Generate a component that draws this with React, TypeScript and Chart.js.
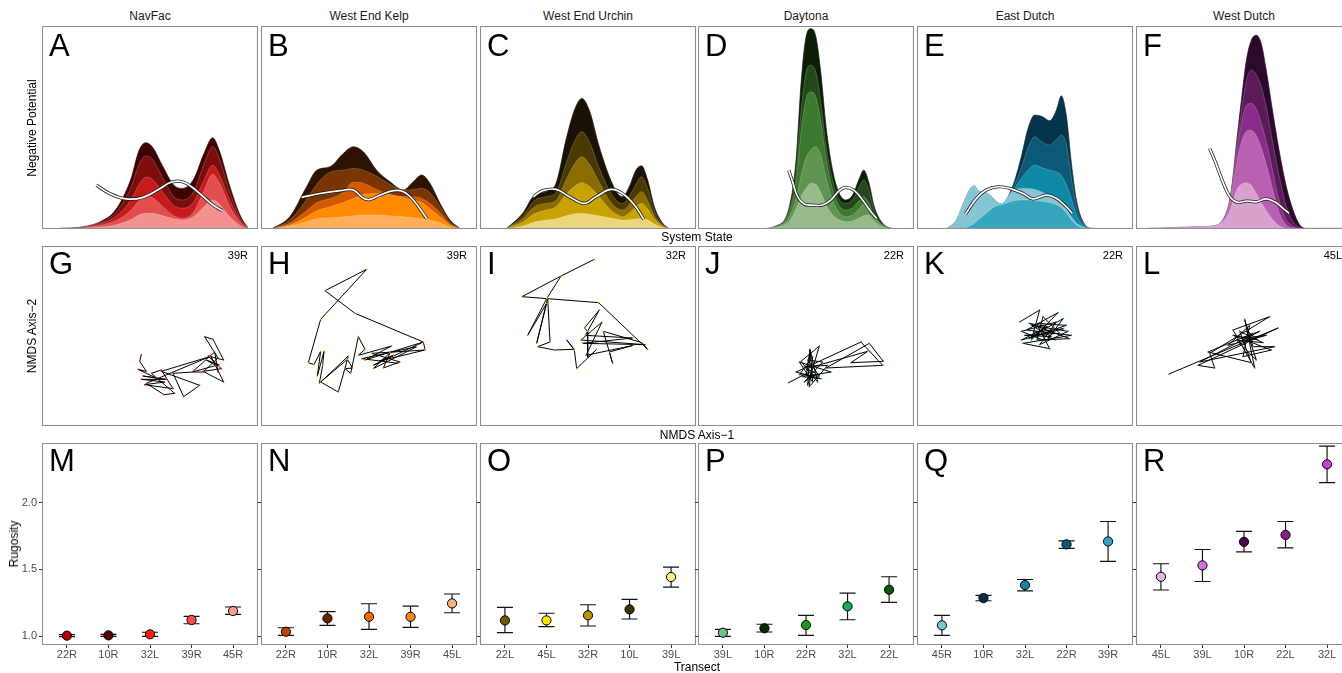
import React, { useEffect, useRef } from 'react';
import { Chart, registerables } from 'chart.js';

Chart.register(...registerables);
const FONT = '"Liberation Sans", Arial, Helvetica, sans-serif';
Chart.defaults.font.family = FONT;

// ---------------- labels ----------------
const siteNames = ['NavFac', 'West End Kelp', 'West End Urchin', 'Daytona', 'East Dutch', 'West Dutch'];
const topLetters = ['A', 'B', 'C', 'D', 'E', 'F'];
const midLetters = ['G', 'H', 'I', 'J', 'K', 'L'];
const botLetters = ['M', 'N', 'O', 'P', 'Q', 'R'];
const nmdsTransectLabels = ['39R', '39R', '32R', '22R', '22R', '45L'];
const rugosityTicks = [1.0, 1.5, 2.0];

// ---------------- top row: stacked densities (outer -> inner) + potential ----------------
const navfacDensX = [8, 19, 27, 34, 41, 45, 48, 51, 56, 61, 65, 70, 75, 79, 82, 87, 92, 95.5];
const navfacDens1 = [0.3, 1.1, 3.6, 9.3, 24.1, 38.9, 42.5, 40.5, 30.7, 21.6, 20, 24.1, 37.2, 44.9, 38.9, 20.8, 6.1, 0.3];
const navfacDens2 = [0.3, 1.0, 3.2, 8.0, 20, 32, 36, 34.5, 25, 16, 14.3, 18, 32, 40.5, 35, 18, 5, 0.3];
const navfacDens3 = [0.2, 0.8, 2.5, 6, 14, 22, 25.5, 24.5, 18, 11.5, 10.2, 13, 24, 31.5, 27, 14, 4, 0.2];
const navfacDens4 = [0.1, 0.5, 1.8, 4, 9, 14, 16, 15.5, 11, 6.5, 5.2, 8, 19, 27, 23, 11, 3, 0.1];
const navfacDens5 = [0.1, 0.3, 1, 2, 4.5, 7, 7.7, 7.7, 6.5, 5, 4.4, 6, 11, 14.3, 12.5, 6, 1.5, 0.1];
const navfacPotX = [25.2, 31.3, 39, 46.8, 54.3, 59.1, 63, 66.8, 73, 79.2, 83.5];
const navfacPotY = [21.6, 17.5, 14.8, 15.6, 19.7, 22.8, 23.6, 22.5, 17.5, 11.8, 9.0];
const navfacFill = ['#3f0303', '#7d0e0e', '#c51b1b', '#e24e4e', '#f39191'];

const kelpDensX = [4.9, 13.4, 21.1, 25.8, 32, 38.1, 42.7, 47.4, 53.5, 59.7, 65.9, 70.5, 74.4, 78.2, 82.9, 87.5, 92.1];
const kelpDens1 = [0, 6.1, 20.8, 29, 30.7, 37.2, 40.5, 38, 29, 23.3, 19.2, 23.3, 26.6, 22.5, 12.6, 4.4, 0.3];
const kelpDens2 = [0, 4.5, 14.5, 22, 28, 29, 29.8, 29, 26, 22, 19, 19.5, 20, 18, 11, 3.5, 0.2];
const kelpDens3 = [0, 3, 9, 13, 15, 18, 23, 22.5, 19.5, 17, 16, 15.9, 15, 12.6, 8, 2.5, 0.1];
const kelpDens4 = [0, 2, 6, 9, 11, 13, 15, 17, 17.5, 17, 15.5, 14.3, 13, 10, 6, 2, 0.1];
const kelpDens5 = [0, 1.5, 3.5, 5, 5.5, 6, 6.5, 6.9, 6.9, 6.5, 6, 5.5, 5, 4.4, 3, 1, 0];
const kelpPotX = [18.8, 27.3, 36.6, 42.7, 47.4, 50.5, 55.1, 61.3, 65.9, 70.5, 76.7];
const kelpPotY = [15.6, 17.5, 18.9, 19.2, 15.1, 14.6, 16.7, 18.9, 18.4, 14.3, 5.2];
const kelpFill = ['#2e1302', '#7a3500', '#d35800', '#ff8a00', '#ffae5c'];

const urchinDensX = [12, 19.8, 25.2, 30.6, 35.2, 39.8, 43.7, 47.2, 50.6, 55.2, 59.9, 63.7, 66, 69.1, 72.2, 74.8, 77.6, 80.7, 84.6, 87.7];
const urchinDens1 = [0, 7.7, 16.7, 18.4, 22.5, 43.8, 58.5, 64.3, 58.5, 40.5, 25.7, 17.5, 15.9, 20.8, 29, 31.1, 24.1, 11, 2.8, 0];
const urchinDens2 = [0, 6.5, 14, 15.9, 18, 32, 43, 47.9, 43, 30, 19, 13.5, 12.6, 16, 22, 25.7, 20, 9, 2.3, 0];
const urchinDens3 = [0, 5, 11, 12.6, 14, 24, 32, 35.6, 32, 23, 14, 10, 9.3, 12, 16, 18.4, 14, 6.5, 1.8, 0];
const urchinDens4 = [0, 3.5, 7.5, 9.3, 11, 17, 21, 22.8, 21, 16, 10, 7, 6, 8, 11, 12.6, 10, 5, 1.3, 0];
const urchinDens5 = [0, 1.5, 3.5, 4.4, 5, 6.5, 7.5, 7.7, 7.3, 6.5, 5.5, 4.8, 4.4, 4.6, 5, 5.2, 4.5, 2.5, 0.7, 0];
const urchinPotX = [24.7, 29, 35.2, 41.4, 48.3, 53.7, 60.6, 66, 71.5, 75.8];
const urchinPotY = [15.9, 18.9, 19.5, 15.9, 12.6, 15.9, 19.5, 17.5, 11.8, 4.8];
const urchinFill = ['#1a1204', '#4a3a00', '#8a6c00', '#c9a100', '#ebd67c'];

const daytonaDensX = [28.4, 36.1, 42.3, 45.4, 47.7, 50, 52.3, 54.6, 56.9, 59.3, 62.3, 65.4, 68.5, 71.6, 74.7, 76.7, 79, 81.6, 85.5, 90.1];
const daytonaDens1 = [0, 1.5, 11, 33.9, 71.6, 94.6, 98.7, 94.6, 76.6, 50.3, 29, 17.5, 14.3, 16.7, 24.9, 29, 23.3, 11, 2.8, 0];
const daytonaDens2 = [0, 1.3, 9.5, 28, 58, 77, 80.7, 77, 62, 41, 24, 14.5, 12.6, 14.5, 21, 24.1, 19.5, 9, 2.3, 0];
const daytonaDens3 = [0, 1.1, 8, 23, 48, 64, 67.5, 65, 53, 35, 19.5, 11.5, 9.3, 10.5, 14, 15.9, 13, 6.5, 1.8, 0];
const daytonaDens4 = [0, 0.9, 6, 15, 26, 35, 39, 40.5, 36, 25, 14, 8, 6, 7, 10, 12.3, 11, 6, 1.5, 0];
const daytonaDens5 = [0, 0.7, 4, 10, 16, 20, 22.5, 22, 18, 12, 7, 4.5, 3.6, 4, 5.5, 6.5, 6.9, 4, 1, 0];
const daytonaPotX = [42, 43.8, 46.1, 49.2, 53.1, 57.7, 61.6, 65.4, 68.5, 72.4, 76.2, 80.1, 82.7];
const daytonaPotY = [29, 23.3, 15.9, 12.3, 11.8, 11.8, 14.3, 18.9, 20.5, 18.9, 14.3, 8.5, 5.2];
const daytonaFill = ['#0c1f06', '#23491a', '#3d7a2f', '#5f9352', '#96ba8a'];

const eastDensX = [13.6, 18.2, 22.1, 24.4, 26.2, 29, 32.9, 36, 39, 42.1, 45.2, 48.3, 51.4, 54.5, 58.3, 61.4, 64.5, 66.8, 69.1, 71.5, 73.8, 76.9, 81.5, 95];
const eastDens1 = [0, 4.4, 14.3, 19.2, 21.3, 18.4, 17.5, 14.3, 12.3, 15.9, 23.8, 35.6, 49.5, 56.1, 55.2, 53.3, 58.5, 65.6, 56.1, 32.3, 14.3, 3.6, 0.3, 0.2];
const eastDens2 = [0, 4.4, 14.3, 19.2, 21.3, 18.4, 17.5, 14.3, 12.3, 15.9, 22, 30, 40, 45.4, 42.5, 41.3, 44, 46.2, 42, 25, 11, 3, 0.2, 0.1];
const eastDens3 = [0, 4.4, 14.3, 19.2, 21.3, 18.4, 17.5, 14.3, 12.3, 15.9, 20, 25, 29, 31.5, 30, 29, 28.2, 26.5, 22, 15, 7, 2, 0.1, 0.1];
const eastDens4 = [0, 4.4, 14.3, 19.2, 21.3, 18.4, 17.5, 14.3, 12.3, 15.9, 19.5, 20, 20, 19.5, 18, 16.5, 15, 13, 10, 6, 3, 1, 0.1, 0];
const eastDens5 = [0, 0, 0.5, 1.5, 2.5, 5, 8.5, 11, 12, 13, 14, 14.3, 14.3, 14, 13.5, 13, 12, 10.5, 8, 4.5, 2, 0.6, 0, 0];
const eastPotX = [22.5, 27.5, 32.1, 37.5, 42.9, 49.1, 53.7, 59.9, 64.5, 69.1, 71.9];
const eastPotY = [7.4, 15.1, 19.2, 20.8, 20, 17.5, 14.8, 16.7, 15.1, 11, 7.7];
const eastFill = ['#06344a', '#0b5877', '#0e8aa6', '#86c5d5', '#36a6bd'];

const westDensX = [5, 20, 30, 37.5, 41, 43.4, 44.9, 46.5, 48.8, 51.1, 53.4, 55.7, 58, 60.3, 63.4, 66.5, 69.6, 72.7, 75.8, 78.9, 100];
const westDens1 = [0.3, 0.8, 1.2, 1.9, 6.1, 14.3, 25.7, 42.1, 63.4, 83.1, 93, 95.4, 91.3, 78.2, 56.9, 37.2, 20.8, 9.3, 2, 0.3, 0.3];
const westDens2 = [0.3, 0.8, 1.2, 1.9, 6, 14, 25, 40, 58, 73, 78.2, 76, 70, 60, 42, 25, 11, 3.5, 0.8, 0.2, 0.2];
const westDens3 = [0.3, 0.8, 1.2, 1.9, 5.8, 13.5, 23.5, 37, 52, 61, 61.8, 59, 52, 43, 28, 13, 4.5, 1.3, 0.3, 0.1, 0.1];
const westDens4 = [0.3, 0.8, 1.2, 1.9, 5.5, 12.5, 21, 32, 43, 48, 48.7, 46, 40, 32, 19, 7.5, 2, 0.5, 0.1, 0, 0];
const westDens5 = [0.2, 0.6, 1, 1.7, 4.5, 9, 14, 19, 22, 22.8, 21.5, 17.5, 13, 9, 4.5, 1.5, 0.3, 0, 0, 0, 0];
const westPotX = [34.1, 36.4, 38.7, 41.8, 44.1, 47.2, 51.1, 55.7, 60.3, 64.2, 68.1, 70.8];
const westPotY = [39.7, 33.9, 27.4, 19.2, 15.1, 13.1, 13.8, 13.4, 14.8, 13.4, 10.2, 7.7];
const westFill = ['#2c0a2c', '#5d1a5b', '#8b2b89', '#b961b1', '#d8a2cf'];

// ---------------- middle row: NMDS trajectories ----------------
const navfacNmdsX = [-0.13, -0.155, -0.055, -0.18, 0.095, -0.105, 0.245, -0.13, 0.22, -0.08, 0.345, 0.17, 0.02, 0.37, 0.21, -0.055, 0.895, 0.17, 0.745, 0.505, 0.345, 0.645, 0.795, 1.02, 0.82, 0.945, 1.105, 0.87, 1.07, 0.795, 1.105, 0.905, 0.985, 0.845, 1.035, 0.635, 0.97, 1.02];
const navfacNmdsY = [-0.28, -0.38, -0.53, -0.5, -0.63, -0.6, -0.65, -0.65, -0.69, -0.73, -0.79, -0.51, -0.56, -0.86, -0.88, -0.71, -0.31, -0.53, -0.74, -0.91, -0.56, -0.54, -0.54, -0.33, -0.01, -0.05, -0.36, -0.3, -0.49, -0.53, -0.69, -0.29, -0.44, -0.36, -0.43, -0.54, -0.24, -0.54];
const kelpNmdsX = [0.84, 0.815, -0.21, -0.66, -0.035, -0.725, -0.91, -0.825, -0.725, -0.775, -0.675, -0.695, -0.745, -0.31, -0.46, -0.725, -0.325, -0.245, -0.36, -0.275, -0.16, -0.06, -0.16, 0.34, -0.06, 0.815, 0.065, 0.365, 0.14, 0.84, 0.04, 0.465, 0.215, 0.315, 0.065, 0.715, -0.11, 0.44];
const kelpNmdsY = [-0.2, -0.09, 0.34, 0.68, 1.0, 0.25, -0.4, -0.43, -0.23, -0.6, -0.23, -0.44, -0.71, -0.3, -0.84, -0.69, -0.35, -0.48, -0.49, -0.56, -0.01, -0.2, -0.29, -0.15, -0.36, -0.09, -0.44, -0.29, -0.38, -0.21, -0.26, -0.39, -0.48, -0.25, -0.49, -0.16, -0.34, -0.41];
const urchinNmdsX = [0.095, -0.405, -0.99, 0.16, 0.895, 0.81, 0.23, 0.37, 0.32, 0.68, -0.03, 0.21, -0.105, 0.86, -0.08, 0.67, -0.04, 0.17, -0.055, -0.005, -0.005, 0.13, -0.17, -0.205, -0.32, -0.205, -0.505, -0.755, -0.57, -0.605, -0.77, -0.62, -0.905, -0.62, -0.405];
const urchinNmdsY = [1.15, 0.9, 0.59, 0.5, -0.2, -0.1, 0.07, -0.41, -0.24, -0.14, -0.29, 0.21, -0.06, -0.13, -0.11, -0.03, 0.01, 0.39, 0.12, 0.07, -0.33, -0.2, -0.49, -0.21, -0.06, -0.2, -0.21, -0.16, -0.09, 0.57, -0.11, 0.49, 0.01, 0.56, 0.9];
const daytonaNmdsX = [-0.26, 0.05, -0.075, 0.2, 0.025, 0.06, 0.1, -0.1, 0.375, -0.05, 0.225, -0.15, 0.825, 1.15, 0.3, 0.95, 1.16, 0.675, 0.925, 0, 0.15, -0.025, 0.25, 0.025, 0.2, -0.1, 0.1, 0.05, 0.325, -0.025, 0.175, 0.06, 0];
const daytonaNmdsY = [-0.7, -0.54, -0.38, -0.15, -0.74, -0.2, -0.69, -0.39, -0.54, -0.61, -0.64, -0.54, -0.09, -0.44, -0.48, -0.11, -0.38, -0.4, -0.23, -0.49, -0.56, -0.69, -0.39, -0.36, -0.6, -0.58, -0.31, -0.76, -0.44, -0.46, -0.69, -0.2, -0.61];
const eastNmdsX = [-0.08, 0.22, 0.095, 0.495, 0.02, 0.695, -0.03, 0.37, 0.17, 0.62, 0.045, 0.57, 0.32, -0.055, 0.47, 0.22, 0.645, 0.095, 0.395, -0.005, 0.52, 0.27, 0.18, 0.67, 0.06, 0.345, -0.055, 0.58, 0.145, 0.46];
const eastNmdsY = [0.21, 0.39, -0.06, 0.35, 0.09, 0.01, -0.11, -0.19, 0.19, 0.16, -0.04, 0.26, -0.08, 0.07, 0.21, -0.13, 0.07, 0.16, -0.01, 0.01, 0.04, 0.29, -0.06, -0.04, 0.19, 0.14, -0.06, 0.11, 0.06, -0.06];
const westNmdsX = [-1.125, 0.51, -0.69, -0.44, -0.515, 0.385, -0.165, 0.16, 0.01, 0.135, 0.46, -0.665, 0.235, -0.065, 0.335, -0.24, 0.085, -0.015, 0.41, -0.165, 0.21, 0.035, 0.185, -0.115, 0.285, -0.065, 0.11, -0.54, 0.135, -0.025];
const westNmdsY = [-0.57, 0.12, -0.44, -0.48, -0.26, 0.29, 0.09, -0.48, 0.25, -0.16, -0.16, -0.39, 0.07, -0.04, 0.01, -0.14, 0.16, -0.31, -0.21, 0.01, -0.06, 0.09, -0.36, -0.06, -0.1, 0.07, -0.4, -0.24, 0.04, -0.14];
const nmdsPointColors = ['#e0301e', '#ff8c00', '#c9a100', '#2e8b3a', '#0e8aa6', '#a040a0'];

// ---------------- bottom row: rugosity ----------------
const navfacTransects = ['22R', '10R', '32L', '39R', '45R'];
const navfacRug = [1.005, 1.007, 1.015, 1.122, 1.189];
const navfacRugLo = [0.998, 1.0, 1.0, 1.094, 1.164];
const navfacRugHi = [1.012, 1.014, 1.03, 1.149, 1.219];
const navfacRugColors = ['#b30000', '#5c0000', '#ff1a1a', '#ff4d4d', '#ff9999'];

const kelpTransects = ['22R', '10R', '32L', '39R', '45L'];
const kelpRug = [1.034, 1.134, 1.146, 1.146, 1.246];
const kelpRugLo = [1.007, 1.082, 1.052, 1.067, 1.176];
const kelpRugHi = [1.064, 1.184, 1.243, 1.226, 1.316];
const kelpRugColors = ['#c24400', '#6b2400', '#ff6600', '#ff8519', '#ffb27f'];

const urchinTransects = ['22L', '45L', '32R', '10L', '39L'];
const urchinRug = [1.119, 1.119, 1.157, 1.201, 1.443];
const urchinRugLo = [1.027, 1.072, 1.077, 1.129, 1.368];
const urchinRugHi = [1.216, 1.172, 1.236, 1.276, 1.517];
const urchinRugColors = ['#6e5c00', '#ffe600', '#b89500', '#3d3200', '#fff27a'];

const daytonaTransects = ['39L', '10R', '22R', '32L', '22L'];
const daytonaRug = [1.027, 1.06, 1.084, 1.224, 1.348];
const daytonaRugLo = [1.0, 1.032, 1.007, 1.124, 1.254];
const daytonaRugHi = [1.052, 1.09, 1.157, 1.323, 1.445];
const daytonaRugColors = ['#6fc48a', '#0b2a0b', '#1a9a1a', '#14a85a', '#0b5510'];

const eastTransects = ['45R', '10R', '32L', '22R', '39R'];
const eastRug = [1.082, 1.286, 1.383, 1.687, 1.709];
const eastRugLo = [1.007, 1.266, 1.34, 1.657, 1.56];
const eastRugHi = [1.157, 1.306, 1.425, 1.713, 1.858];
const eastRugColors = ['#80c4d4', '#082f45', '#0b86a4', '#0b5877', '#38a6be'];

const westTransects = ['45L', '39L', '10R', '22L', '32L'];
const westRug = [1.445, 1.53, 1.706, 1.758, 2.286];
const westRugLo = [1.346, 1.41, 1.631, 1.661, 2.149];
const westRugHi = [1.542, 1.649, 1.784, 1.858, 2.422];
const westRugColors = ['#e6b3e6', '#d175d9', '#4b0a4b', '#8a1e8a', '#c443d4'];

// ---------------- tables built from the arrays ----------------
const topSites = [
  { x: navfacDensX, layers: [navfacDens1, navfacDens2, navfacDens3, navfacDens4, navfacDens5], fill: navfacFill, potX: navfacPotX, potY: navfacPotY },
  { x: kelpDensX, layers: [kelpDens1, kelpDens2, kelpDens3, kelpDens4, kelpDens5], fill: kelpFill, potX: kelpPotX, potY: kelpPotY },
  { x: urchinDensX, layers: [urchinDens1, urchinDens2, urchinDens3, urchinDens4, urchinDens5], fill: urchinFill, potX: urchinPotX, potY: urchinPotY },
  { x: daytonaDensX, layers: [daytonaDens1, daytonaDens2, daytonaDens3, daytonaDens4, daytonaDens5], fill: daytonaFill, potX: daytonaPotX, potY: daytonaPotY },
  { x: eastDensX, layers: [eastDens1, eastDens2, eastDens3, eastDens4, eastDens5], fill: eastFill, potX: eastPotX, potY: eastPotY },
  { x: westDensX, layers: [westDens1, westDens2, westDens3, westDens4, westDens5], fill: westFill, potX: westPotX, potY: westPotY },
];
const midSites = [
  { x: navfacNmdsX, y: navfacNmdsY },
  { x: kelpNmdsX, y: kelpNmdsY },
  { x: urchinNmdsX, y: urchinNmdsY },
  { x: daytonaNmdsX, y: daytonaNmdsY },
  { x: eastNmdsX, y: eastNmdsY },
  { x: westNmdsX, y: westNmdsY },
];
const botSites = [
  { cats: navfacTransects, v: navfacRug, lo: navfacRugLo, hi: navfacRugHi, c: navfacRugColors },
  { cats: kelpTransects, v: kelpRug, lo: kelpRugLo, hi: kelpRugHi, c: kelpRugColors },
  { cats: urchinTransects, v: urchinRug, lo: urchinRugLo, hi: urchinRugHi, c: urchinRugColors },
  { cats: daytonaTransects, v: daytonaRug, lo: daytonaRugLo, hi: daytonaRugHi, c: daytonaRugColors },
  { cats: eastTransects, v: eastRug, lo: eastRugLo, hi: eastRugHi, c: eastRugColors },
  { cats: westTransects, v: westRug, lo: westRugLo, hi: westRugHi, c: westRugColors },
];

// ---------------- layout (styles) ----------------
const PANEL_LEFT = [42, 261, 480, 698, 917, 1136];
const PANEL_W = 216;
const TOP_Y = 26, TOP_H = 203;
const MID_Y = 246, MID_H = 180;
const BOT_Y = 443, BOT_H = 202;
const Y_AXIS_W = 40, X_AXIS_H = 20;

const boxPlugin = {
  id: 'panelBox',
  afterDraw(chart: any) {
    const { ctx, chartArea: a } = chart;
    ctx.save();
    ctx.strokeStyle = '#8e8e8e';
    ctx.lineWidth = 1.1;
    ctx.strokeRect(a.left + 0.5, a.top + 0.5, a.right - a.left - 1, a.bottom - a.top - 1);
    ctx.restore();
  },
};

const errorBarPlugin = {
  id: 'errorBars',
  beforeDatasetsDraw(chart: any) {
    const { ctx } = chart;
    const xs = chart.scales.x, ys = chart.scales.y;
    chart.data.datasets.forEach((ds: any) => {
      if (!ds.errLo) return;
      ds.data.forEach((p: any, i: number) => {
        const px = xs.getPixelForValue(p.x);
        const lo = ys.getPixelForValue(ds.errLo[i]);
        const hi = ys.getPixelForValue(ds.errHi[i]);
        ctx.save();
        ctx.strokeStyle = '#111';
        ctx.lineWidth = 1.15;
        ctx.beginPath();
        ctx.moveTo(px, lo); ctx.lineTo(px, hi);
        ctx.moveTo(px - 8, lo); ctx.lineTo(px + 8, lo);
        ctx.moveTo(px - 8, hi); ctx.lineTo(px + 8, hi);
        ctx.stroke();
        ctx.restore();
      });
    });
  },
};

const baseOptions = {
  animation: false,
  responsive: true,
  maintainAspectRatio: false,
  events: [],
  layout: { padding: 0, autoPadding: false },
  plugins: { legend: { display: false }, tooltip: { enabled: false }, title: { display: false } },
};

function topConfig(i: number): any {
  const s = topSites[i];
  const pot = s.potX.map((x, k) => ({ x, y: s.potY[k] }));
  const layers = s.layers.map((ys, k) => ({
    data: s.x.map((x, j) => ({ x, y: ys[j] })),
    fill: 'origin',
    backgroundColor: s.fill[k],
    borderColor: k === 0 ? s.fill[0] : 'rgba(255,255,255,0.3)',
    borderWidth: 0.7,
    pointRadius: 0,
    cubicInterpolationMode: 'monotone',
  }));
  return {
    type: 'line',
    data: {
      datasets: [
        { data: pot, borderColor: '#ffffff', borderWidth: 1.7, tension: 0.4, pointRadius: 0, fill: false },
        { data: pot, borderColor: '#1a1a1a', borderWidth: 3.2, tension: 0.4, pointRadius: 0, fill: false },
        ...layers.reverse(),
      ],
    },
    options: {
      ...baseOptions,
      scales: {
        x: { type: 'linear', min: 0, max: 100, display: false },
        y: { type: 'linear', min: 0, max: 100, display: false },
      },
    },
    plugins: [boxPlugin],
  };
}

function midConfig(i: number): any {
  const s = midSites[i];
  return {
    type: 'line',
    data: {
      datasets: [{
        data: s.x.map((x, k) => ({ x, y: s.y[k] })),
        borderColor: '#000',
        borderWidth: 1,
        pointRadius: 0.8,
        pointBackgroundColor: nmdsPointColors[i],
        pointBorderWidth: 0,
        tension: 0,
        fill: false,
      }],
    },
    options: {
      ...baseOptions,
      scales: {
        x: { type: 'linear', min: -1.62, max: 1.62, display: false },
        y: { type: 'linear', min: -1.35, max: 1.35, display: false },
      },
    },
    plugins: [boxPlugin],
  };
}

function botConfig(i: number): any {
  const s = botSites[i];
  const showY = i === 0;
  return {
    type: 'scatter',
    data: {
      datasets: [{
        data: s.v.map((v, k) => ({ x: k + 1, y: v })),
        errLo: s.lo,
        errHi: s.hi,
        pointRadius: 4.6,
        pointBackgroundColor: s.c,
        pointBorderColor: '#000',
        pointBorderWidth: 1,
      }],
    },
    options: {
      ...baseOptions,
      scales: {
        x: {
          type: 'linear', min: 0.4, max: 5.6,
          afterBuildTicks: (sc: any) => { sc.ticks = s.cats.map((_, k) => ({ value: k + 1 })); },
          ticks: { callback: (_v: any, idx: number) => s.cats[idx], color: '#4d4d4d', font: { size: 11 }, padding: 0, autoSkip: false, maxRotation: 0 },
          grid: { display: true, drawOnChartArea: false, drawTicks: true, tickLength: 3, color: '#333', tickColor: '#333' },
          border: { display: false },
          afterFit: (sc: any) => { sc.height = X_AXIS_H; sc.paddingLeft = 0; sc.paddingRight = 0; },
        },
        y: {
          type: 'linear', min: 0.935, max: 2.445,
          afterBuildTicks: (sc: any) => { sc.ticks = rugosityTicks.map((v) => ({ value: v })); },
          ticks: { callback: (v: any) => Number(v).toFixed(1), color: showY ? '#4d4d4d' : 'rgba(0,0,0,0)', font: { size: 11 }, padding: 2 },
          grid: { display: true, drawOnChartArea: false, drawTicks: true, tickLength: 3, color: '#333', tickColor: '#333' },
          border: { display: false },
          afterFit: (sc: any) => { sc.width = Y_AXIS_W; sc.paddingTop = 0; sc.paddingBottom = 0; },
        },
      },
    },
    plugins: [errorBarPlugin, boxPlugin],
  };
}

function ChartPanel({ left, top, width, height, make }: { left: number; top: number; width: number; height: number; make: () => any }) {
  const ref = useRef<HTMLCanvasElement | null>(null);
  useEffect(() => {
    if (!ref.current) return;
    const chart = new Chart(ref.current, make());
    return () => chart.destroy();
  }, []);
  return (
    <div style={{ position: 'absolute', left, top, width, height }}>
      <canvas ref={ref} />
    </div>
  );
}

function CenterText({ x, y, size, color = '#000', rotate = false, children }: any) {
  return (
    <div style={{
      position: 'absolute', left: x, top: y,
      transform: 'translate(-50%, -50%)' + (rotate ? ' rotate(-90deg)' : ''),
      fontSize: size, lineHeight: 1, whiteSpace: 'nowrap', color, fontFamily: FONT,
    }}>{children}</div>
  );
}

function Letter({ x, y, children }: any) {
  return (
    <div style={{ position: 'absolute', left: x, top: y, fontSize: 31, lineHeight: '31px', color: '#000', fontFamily: FONT }}>{children}</div>
  );
}

export default function App() {
  return (
    <div style={{ position: 'absolute', left: 0, top: 0, width: 1342, height: 673, overflow: 'hidden', background: '#fff', fontFamily: FONT }}>
      {PANEL_LEFT.map((l, i) => (
        <React.Fragment key={i}>
          <ChartPanel left={l} top={TOP_Y} width={PANEL_W} height={TOP_H} make={() => topConfig(i)} />
          <ChartPanel left={l} top={MID_Y} width={PANEL_W} height={MID_H} make={() => midConfig(i)} />
          <ChartPanel left={l - Y_AXIS_W} top={BOT_Y} width={PANEL_W + Y_AXIS_W} height={BOT_H + X_AXIS_H} make={() => botConfig(i)} />
          <CenterText x={l + PANEL_W / 2} y={16} size={12} color="#1a1a1a">{siteNames[i]}</CenterText>
          <Letter x={l + 7} y={30}>{topLetters[i]}</Letter>
          <Letter x={l + 7} y={248}>{midLetters[i]}</Letter>
          <Letter x={l + 7} y={444.5}>{botLetters[i]}</Letter>
          <div style={{ position: 'absolute', left: l, width: PANEL_W - 10, top: 249.5, textAlign: 'right', fontSize: 11, lineHeight: 1, color: '#000', fontFamily: FONT }}>{nmdsTransectLabels[i]}</div>
        </React.Fragment>
      ))}
      <CenterText x={697} y={237} size={12}>System State</CenterText>
      <CenterText x={697} y={435} size={12}>NMDS Axis−1</CenterText>
      <CenterText x={697} y={667} size={12}>Transect</CenterText>
      <CenterText x={32} y={127.5} size={12} rotate>Negative Potential</CenterText>
      <CenterText x={32} y={336} size={12} rotate>NMDS Axis−2</CenterText>
      <CenterText x={13.5} y={544} size={12} rotate>Rugosity</CenterText>
    </div>
  );
}
